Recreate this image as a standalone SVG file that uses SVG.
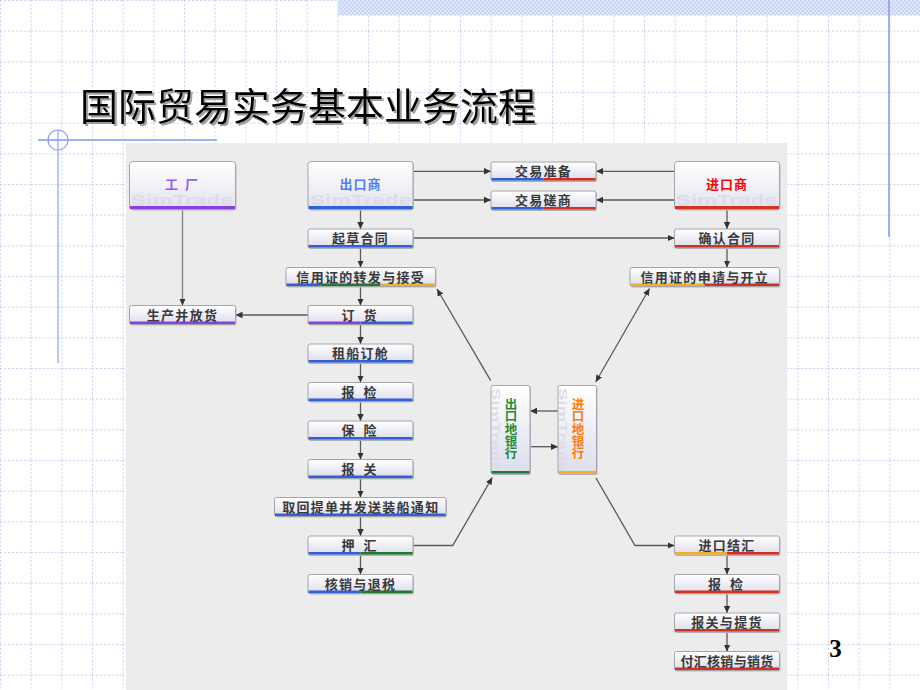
<svg xmlns="http://www.w3.org/2000/svg" width="920" height="690" viewBox="0 0 920 690">
<defs>
<pattern id="grid" patternUnits="userSpaceOnUse" width="30.667" height="30.667">
<path d="M0 0.5 H30.667 M0.5 0 V30.667" stroke="#c9d3f1" stroke-width="1" stroke-dasharray="2 2" fill="none"/>
</pattern>
<pattern id="check" patternUnits="userSpaceOnUse" width="4" height="4">
<rect width="4" height="4" fill="#e3e9fb"/>
<rect width="2" height="2" fill="#c8d4f6"/>
<rect x="2" y="2" width="2" height="2" fill="#c8d4f6"/>
</pattern>
<linearGradient id="ng" x1="0" y1="0" x2="0" y2="1">
<stop offset="0" stop-color="#ffffff"/>
<stop offset="1" stop-color="#dcdcec"/>
</linearGradient>
<linearGradient id="bg" x1="0" y1="0" x2="0" y2="1">
<stop offset="0" stop-color="#ffffff"/>
<stop offset="1" stop-color="#e2e2ef"/>
</linearGradient>
<filter id="tsh" x="-5%" y="-20%" width="110%" height="140%">
<feDropShadow dx="2" dy="2" stdDeviation="0.6" flood-color="#888" flood-opacity="0.8"/>
</filter>
<marker id="ah" markerUnits="userSpaceOnUse" markerWidth="9" markerHeight="8" refX="7" refY="4" orient="auto-start-reverse">
<path d="M0,0.8 L7,4 L0,7.2 z" fill="#333"/>
</marker>
<style>
.nd{fill:url(#ng);stroke:#a4a4ae;stroke-width:1}
.big{fill:url(#bg);stroke:#a4a4ae;stroke-width:1}
.sh{fill:#b8b8c2}
.lb{font-family:"Noto Sans CJK SC","Noto Sans CJK TC",sans-serif;font-size:13px;font-weight:bold;fill:#3a3a3a;text-anchor:middle;letter-spacing:1.3px}
.bl{font-family:"Noto Sans CJK SC",sans-serif;font-size:13px;font-weight:bold;text-anchor:middle;letter-spacing:1px}
.vt{font-family:"Noto Sans CJK SC",sans-serif;font-size:12.5px;font-weight:bold;writing-mode:vertical-rl;letter-spacing:-0.2px}
.wm{font-family:"Liberation Sans",Arial,sans-serif;font-size:15px;font-weight:bold;fill:#dcdce6}
.c{fill:none;stroke:#5a5a5a;stroke-width:1.3}
.pu{fill:#8a3ee0}.blu{fill:#2f60d8}.gr{fill:#1b7a2b}.or{fill:#f0b020}.rd{fill:#d43020}
</style>
</defs>

<rect width="920" height="690" fill="#ffffff"/>
<rect width="920" height="690" fill="url(#grid)"/>
<rect x="338" y="0" width="582" height="15.5" fill="url(#check)"/>
<line x1="889" y1="0" x2="889" y2="237" stroke="#8399ec" stroke-width="1.5"/>
<line x1="38" y1="140" x2="217" y2="140" stroke="#9db0f4" stroke-width="2"/>
<line x1="58" y1="130" x2="58" y2="363" stroke="#8ca0f0" stroke-width="1.2"/>
<circle cx="58" cy="140" r="10" fill="none" stroke="#8ca0f0" stroke-width="1.2"/>

<text x="80" y="120" font-family="Noto Sans CJK SC, sans-serif" font-size="38" fill="#000" filter="url(#tsh)">国际贸易实务基本业务流程</text>

<rect x="126" y="143" width="661" height="547" fill="#ececec"/>

<g id="connectors">
<line class="c" x1="182.5" y1="209.5" x2="182.5" y2="305.5" stroke-width="1.8" style="stroke:#808080" marker-end="url(#ah)"/>
<line class="c" x1="308" y1="315" x2="235.5" y2="315" marker-end="url(#ah)"/>
<line class="c" x1="413" y1="171.3" x2="491" y2="171.3" marker-end="url(#ah)"/>
<line class="c" x1="413" y1="200" x2="491" y2="200" marker-end="url(#ah)"/>
<line class="c" x1="674.5" y1="171.3" x2="596" y2="171.3" marker-end="url(#ah)"/>
<line class="c" x1="674.5" y1="200" x2="596" y2="200" marker-end="url(#ah)"/>
<line class="c" x1="413" y1="238" x2="674.5" y2="238" marker-end="url(#ah)"/>
<line class="c" x1="360.5" y1="209.5" x2="360.5" y2="229" marker-end="url(#ah)"/>
<line class="c" x1="360.5" y1="248" x2="360.5" y2="267.5" marker-end="url(#ah)"/>
<line class="c" x1="360.5" y1="286.5" x2="360.5" y2="305.5" marker-end="url(#ah)"/>
<line class="c" x1="360.5" y1="324.5" x2="360.5" y2="344" marker-end="url(#ah)"/>
<line class="c" x1="360.5" y1="363" x2="360.5" y2="382.5" marker-end="url(#ah)"/>
<line class="c" x1="360.5" y1="401.5" x2="360.5" y2="421" marker-end="url(#ah)"/>
<line class="c" x1="360.5" y1="440" x2="360.5" y2="459.5" marker-end="url(#ah)"/>
<line class="c" x1="360.5" y1="478.5" x2="360.5" y2="497.5" marker-end="url(#ah)"/>
<line class="c" x1="360.5" y1="516.5" x2="360.5" y2="536" marker-end="url(#ah)"/>
<line class="c" x1="360.5" y1="555" x2="360.5" y2="574.5" marker-end="url(#ah)"/>
<line class="c" x1="727" y1="209.5" x2="727" y2="229" marker-end="url(#ah)"/>
<line class="c" x1="727" y1="248" x2="727" y2="267.5" marker-end="url(#ah)"/>
<line class="c" x1="727" y1="555" x2="727" y2="574.5" marker-end="url(#ah)"/>
<line class="c" x1="727" y1="593.5" x2="727" y2="613" marker-end="url(#ah)"/>
<line class="c" x1="727" y1="632" x2="727" y2="651.5" marker-end="url(#ah)"/>
<line class="c" x1="649.5" y1="288.5" x2="595.7" y2="382" marker-start="url(#ah)" marker-end="url(#ah)"/>
<line class="c" x1="490.7" y1="380.7" x2="437" y2="289" marker-end="url(#ah)"/>
<line class="c" x1="558" y1="411" x2="530" y2="411" marker-end="url(#ah)"/>
<line class="c" x1="530" y1="446.7" x2="558" y2="446.7" marker-end="url(#ah)"/>
<polyline class="c" points="413,545.5 452.7,545.5 492.3,477.5" marker-end="url(#ah)"/>
<polyline class="c" points="596,478 635,545.5 674.5,545.5" marker-end="url(#ah)"/>
</g>

<g id="factory">
<rect class="sh" x="130.5" y="162.5" width="106" height="48" rx="3"/>
<rect class="big" x="129.5" y="161.5" width="106" height="48" rx="3"/>
<text class="wm" x="131" y="205" textLength="102" lengthAdjust="spacingAndGlyphs">SimTrade</text>
<rect class="pu" x="130" y="206" width="105" height="3"/>
<text class="bl" x="182.5" y="189" fill="#9a5cf5" style="letter-spacing:2px">工 厂</text>
</g>

<g id="exporter">
<rect class="sh" x="309" y="162.5" width="105" height="48" rx="3"/>
<rect class="big" x="308" y="161.5" width="105" height="48" rx="3"/>
<text class="wm" x="310" y="205" textLength="101" lengthAdjust="spacingAndGlyphs">SimTrade</text>
<rect class="blu" x="308.5" y="206" width="104" height="3"/>
<text class="bl" x="360.5" y="189" fill="#4d80f0">出口商</text>
</g>

<g id="importer">
<rect class="sh" x="675.5" y="162.5" width="105" height="48" rx="3"/>
<rect class="big" x="674.5" y="161.5" width="105" height="48" rx="3"/>
<text class="wm" x="676" y="205" textLength="101" lengthAdjust="spacingAndGlyphs">SimTrade</text>
<rect class="rd" x="675" y="206" width="104" height="3"/>
<text class="bl" x="727" y="189" fill="#ff0000">进口商</text>
</g>

<g id="prep">
<rect class="sh" x="492" y="163" width="105" height="19" rx="2"/>
<rect class="nd" x="491" y="162" width="105" height="19" rx="2"/>
<rect class="blu" x="491.5" y="178" width="52" height="2.5"/><rect class="rd" x="543.5" y="178" width="52" height="2.5"/>
<text class="lb" x="543.5" y="176">交易准备</text>
</g>

<g id="negotiate">
<rect class="sh" x="492" y="192" width="105" height="19" rx="2"/>
<rect class="nd" x="491" y="191" width="105" height="19" rx="2"/>
<rect class="blu" x="491.5" y="207" width="52" height="2.5"/><rect class="rd" x="543.5" y="207" width="52" height="2.5"/>
<text class="lb" x="543.5" y="205">交易磋商</text>
</g>

<g id="draft">
<rect class="sh" x="309" y="230" width="105" height="19" rx="2"/>
<rect class="nd" x="308" y="229" width="105" height="19" rx="2"/>
<rect class="blu" x="308.5" y="245" width="104" height="2.5"/>
<text class="lb" x="360.5" y="243">起草合同</text>
</g>

<g id="confirm">
<rect class="sh" x="675.5" y="230" width="105" height="19" rx="2"/>
<rect class="nd" x="674.5" y="229" width="105" height="19" rx="2"/>
<rect class="rd" x="675" y="245" width="104" height="2.5"/>
<text class="lb" x="727" y="243">确认合同</text>
</g>

<g id="lc-forward">
<rect class="sh" x="287" y="268.5" width="149.5" height="19" rx="2"/>
<rect class="nd" x="286" y="267.5" width="149.5" height="19" rx="2"/>
<rect class="blu" x="286.5" y="283.5" width="34" height="2.5"/><rect class="gr" x="320.5" y="283.5" width="60" height="2.5"/><rect class="or" x="380.5" y="283.5" width="54.5" height="2.5"/>
<text class="lb" x="360.7" y="281.5">信用证的转发与接受</text>
</g>

<g id="lc-apply">
<rect class="sh" x="631" y="268.5" width="149.5" height="19" rx="2"/>
<rect class="nd" x="630" y="267.5" width="149.5" height="19" rx="2"/>
<rect class="or" x="630.5" y="283.5" width="74" height="2.5"/><rect class="rd" x="704.5" y="283.5" width="74.5" height="2.5"/>
<text class="lb" x="704.8" y="281.5">信用证的申请与开立</text>
</g>

<g id="produce">
<rect class="sh" x="130.5" y="306.5" width="106" height="19" rx="2"/>
<rect class="nd" x="129.5" y="305.5" width="106" height="19" rx="2"/>
<rect class="pu" x="130" y="321.5" width="105" height="2.5"/>
<text class="lb" x="182.5" y="319.5">生产并放货</text>
</g>

<g id="order">
<rect class="sh" x="309" y="306.5" width="105" height="19" rx="2"/>
<rect class="nd" x="308" y="305.5" width="105" height="19" rx="2"/>
<rect class="pu" x="308.5" y="321.5" width="52" height="2.5"/><rect class="blu" x="360.5" y="321.5" width="52" height="2.5"/>
<text class="lb" x="360.5" y="319.5" style="letter-spacing:3px">订 货</text>
</g>

<g id="shipping">
<rect class="sh" x="309" y="345" width="105" height="19" rx="2"/>
<rect class="nd" x="308" y="344" width="105" height="19" rx="2"/>
<rect class="blu" x="308.5" y="360" width="104" height="2.5"/>
<text class="lb" x="360.5" y="358">租船订舱</text>
</g>

<g id="inspect-ex">
<rect class="sh" x="309" y="383.5" width="105" height="19" rx="2"/>
<rect class="nd" x="308" y="382.5" width="105" height="19" rx="2"/>
<rect class="blu" x="308.5" y="398.5" width="104" height="2.5"/>
<text class="lb" x="360.5" y="396.5" style="letter-spacing:3px">报 检</text>
</g>

<g id="insure">
<rect class="sh" x="309" y="422" width="105" height="19" rx="2"/>
<rect class="nd" x="308" y="421" width="105" height="19" rx="2"/>
<rect class="blu" x="308.5" y="437" width="104" height="2.5"/>
<text class="lb" x="360.5" y="435" style="letter-spacing:3px">保 险</text>
</g>

<g id="customs-ex">
<rect class="sh" x="309" y="460.5" width="105" height="19" rx="2"/>
<rect class="nd" x="308" y="459.5" width="105" height="19" rx="2"/>
<rect class="blu" x="308.5" y="475.5" width="104" height="2.5"/>
<text class="lb" x="360.5" y="473.5" style="letter-spacing:3px">报 关</text>
</g>

<g id="bl">
<rect class="sh" x="275.5" y="498.5" width="171.5" height="19" rx="2"/>
<rect class="nd" x="274.5" y="497.5" width="171.5" height="19" rx="2"/>
<rect class="blu" x="275" y="513.5" width="170.5" height="2.5"/>
<text class="lb" x="360.8" y="511.5">取回提单并发送装船通知</text>
</g>

<g id="negotiation">
<rect class="sh" x="309" y="537" width="105" height="19" rx="2"/>
<rect class="nd" x="308" y="536" width="105" height="19" rx="2"/>
<rect class="blu" x="308.5" y="552" width="52" height="2.5"/><rect class="gr" x="360.5" y="552" width="52" height="2.5"/>
<text class="lb" x="360.5" y="550" style="letter-spacing:3px">押 汇</text>
</g>

<g id="refund">
<rect class="sh" x="309" y="575.5" width="105" height="19" rx="2"/>
<rect class="nd" x="308" y="574.5" width="105" height="19" rx="2"/>
<rect class="blu" x="308.5" y="590.5" width="52" height="2.5"/><rect class="gr" x="360.5" y="590.5" width="52" height="2.5"/>
<text class="lb" x="360.5" y="588.5">核销与退税</text>
</g>

<g id="export-bank">
<rect class="sh" x="492" y="386.5" width="39" height="88.5" rx="2"/>
<rect class="nd" x="491" y="385.5" width="39" height="88.5" rx="2"/>
<text class="wm" transform="translate(492,388) rotate(90)" x="0" y="0" style="font-size:11.5px" textLength="84" lengthAdjust="spacingAndGlyphs">SimTrade</text>
<rect class="gr" x="491.5" y="471" width="38" height="2.5"/>
<text class="vt" x="511" y="398" fill="#1e8c3a">出口地银行</text>
</g>

<g id="import-bank">
<rect class="sh" x="559" y="386.5" width="38.5" height="88.5" rx="2"/>
<rect class="nd" x="558" y="385.5" width="38.5" height="88.5" rx="2"/>
<text class="wm" transform="translate(559,388) rotate(90)" x="0" y="0" style="font-size:11.5px" textLength="84" lengthAdjust="spacingAndGlyphs">SimTrade</text>
<rect class="or" x="558.5" y="471" width="37.5" height="2.5"/>
<text class="vt" x="578" y="398" fill="#ff7a00">进口地银行</text>
</g>

<g id="settle">
<rect class="sh" x="675.5" y="537" width="105" height="19" rx="2"/>
<rect class="nd" x="674.5" y="536" width="105" height="19" rx="2"/>
<rect class="or" x="675" y="552" width="52" height="2.5"/><rect class="rd" x="727" y="552" width="52" height="2.5"/>
<text class="lb" x="727" y="550">进口结汇</text>
</g>

<g id="inspect-im">
<rect class="sh" x="675.5" y="575.5" width="105" height="19" rx="2"/>
<rect class="nd" x="674.5" y="574.5" width="105" height="19" rx="2"/>
<rect class="rd" x="675" y="590.5" width="104" height="2.5"/>
<text class="lb" x="727" y="588.5" style="letter-spacing:3px">报 检</text>
</g>

<g id="customs-im">
<rect class="sh" x="675.5" y="614" width="105" height="19" rx="2"/>
<rect class="nd" x="674.5" y="613" width="105" height="19" rx="2"/>
<rect class="rd" x="675" y="629" width="104" height="2.5"/>
<text class="lb" x="727" y="627">报关与提货</text>
</g>

<g id="payment">
<rect class="sh" x="675.5" y="652.5" width="105" height="19" rx="2"/>
<rect class="nd" x="674.5" y="651.5" width="105" height="19" rx="2"/>
<rect class="rd" x="675" y="667.5" width="104" height="2.5"/>
<text class="lb" x="727" y="665.5" style="letter-spacing:0.3px">付汇核销与销货</text>
</g>

<text x="835.5" y="657" font-family="Liberation Serif, serif" font-size="25" font-weight="bold" text-anchor="middle" fill="#000">3</text>
</svg>
